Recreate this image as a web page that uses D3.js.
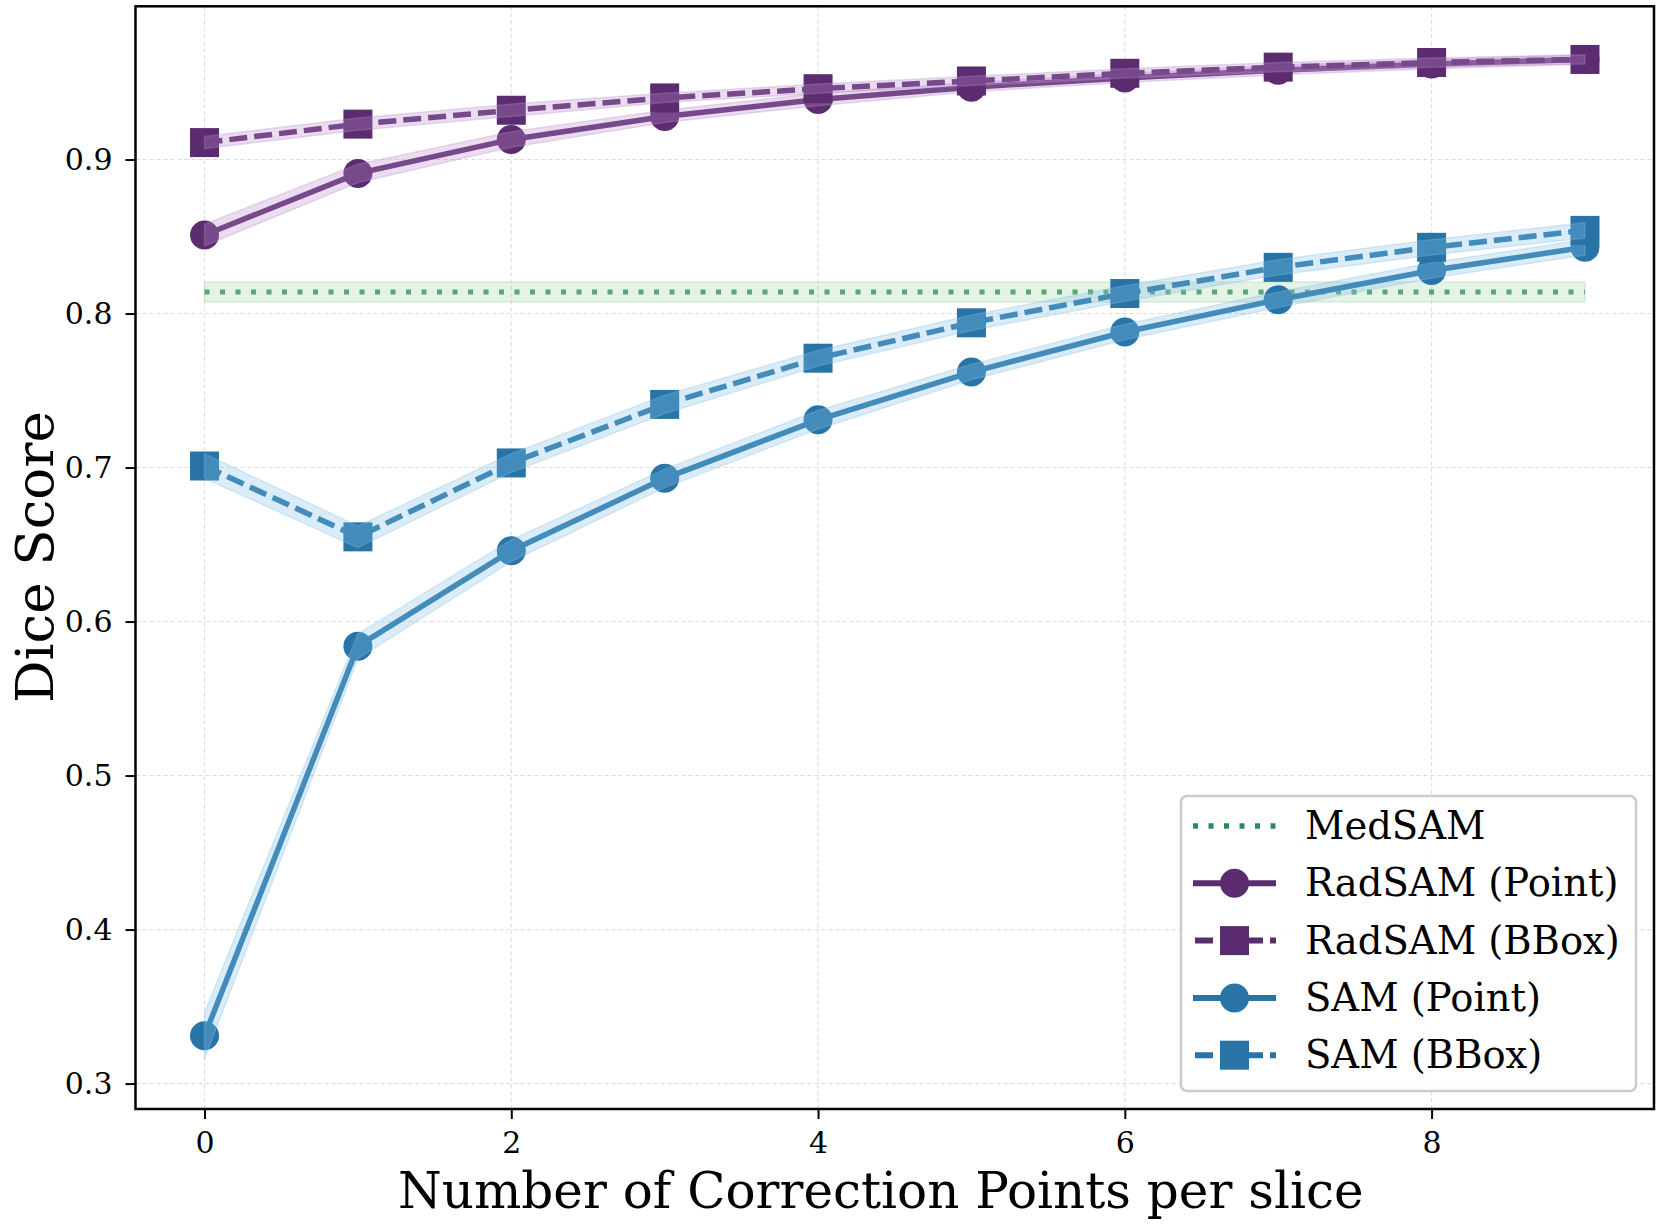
<!DOCTYPE html>
<html>
<head>
<meta charset="utf-8">
<script src="https://cdn.jsdelivr.net/npm/d3@7"></script>
<style>
  body { margin: 0; background: #fff; }
  text { font-family: "DejaVu Serif", serif; }
</style>
</head>
<body>
<svg id="chart" width="1659" height="1224"></svg>
<script>
// x positions: number of correction points
var steps = [0, 1, 2, 3, 4, 5, 6, 7, 8, 9];

var radPoint = [0.851, 0.891, 0.913, 0.928, 0.939, 0.947, 0.953, 0.958, 0.962, 0.965];
var radPointErr = [0.007, 0.006, 0.005, 0.004, 0.004, 0.003, 0.003, 0.003, 0.003, 0.003];
var radBox = [0.911, 0.923, 0.932, 0.940, 0.946, 0.951, 0.956, 0.960, 0.963, 0.965];
var radBoxErr = [0.004, 0.004, 0.004, 0.003, 0.003, 0.003, 0.003, 0.003, 0.003, 0.003];
var samPoint = [0.331, 0.584, 0.646, 0.693, 0.731, 0.762, 0.788, 0.809, 0.828, 0.843];
var samPointErr = [0.015, 0.008, 0.007, 0.006, 0.006, 0.005, 0.005, 0.005, 0.005, 0.005];
var samBox = [0.701, 0.655, 0.703, 0.741, 0.771, 0.794, 0.813, 0.830, 0.843, 0.854];
var samBoxErr = [0.008, 0.007, 0.006, 0.006, 0.005, 0.005, 0.005, 0.005, 0.005, 0.005];
var medsam = 0.814;
var medsamErr = 0.0065;

var xTicks = [0, 2, 4, 6, 8];
var yTicks = [0.3, 0.4, 0.5, 0.6, 0.7, 0.8, 0.9];

var legendNames = ["MedSAM", "RadSAM (Point)", "RadSAM (BBox)", "SAM (Point)", "SAM (BBox)"];

(function () {
	var purple = "#5b2c6f", purpleBand = "#bb8fce";
	var blue = "#2874a6", blueBand = "#85c1e9";
	var green = "#2e8b57", greenBand = "#82c88c";
	var dashed = "18,7", dotted = "5,10.5";

	var mLeft = 135.5, mRight = 1654, mTop = 6.3, mBottom = 1109;

	var svg = d3.select("#chart");
	var x = d3.scaleLinear().domain([-0.45, 9.45]).range([mLeft, mRight]);
	var y = d3.scaleLinear().domain([0.2835, 0.9995]).range([mBottom, mTop]);

	// grid
	var grid = svg.append("g");
	xTicks.forEach(function (t) {
		grid.append("line").attr("x1", x(t)).attr("x2", x(t)).attr("y1", mTop).attr("y2", mBottom)
			.attr("stroke", "#dcdcdc").attr("stroke-width", 1.1).attr("stroke-dasharray", "4,3");
	});
	yTicks.forEach(function (t) {
		grid.append("line").attr("x1", mLeft).attr("x2", mRight).attr("y1", y(t)).attr("y2", y(t))
			.attr("stroke", "#dcdcdc").attr("stroke-width", 1.1).attr("stroke-dasharray", "4,3");
	});

	var plot = svg.append("g");

	function band(lo, hi, color, opacity) {
		var area = d3.area().x(function (d, i) { return x(steps[i]); })
			.y0(function (d, i) { return y(lo[i]); })
			.y1(function (d, i) { return y(hi[i]); });
		plot.append("path").attr("d", area(lo)).attr("fill", color).attr("fill-opacity", opacity)
			.attr("stroke", color).attr("stroke-opacity", opacity).attr("stroke-width", 1.5);
	}

	function series(vals, err, color, bandColor, isDashed, square) {
		var line = d3.line().x(function (d, i) { return x(steps[i]); }).y(function (d) { return y(d); });
		plot.append("path").attr("d", line(vals)).attr("fill", "none").attr("stroke", color)
			.attr("stroke-width", 5.5).attr("stroke-dasharray", isDashed ? dashed : null);
		vals.forEach(function (v, i) {
			if (square) {
				plot.append("rect").attr("x", x(steps[i]) - 14.5).attr("y", y(v) - 14.5)
					.attr("width", 29).attr("height", 29).attr("fill", color);
			} else {
				plot.append("circle").attr("cx", x(steps[i])).attr("cy", y(v)).attr("r", 14.5).attr("fill", color);
			}
		});
		var lo = vals.map(function (v, i) { return v - err[i]; });
		var hi = vals.map(function (v, i) { return v + err[i]; });
		band(lo, hi, bandColor, 0.3);
	}

	// MedSAM reference line
	plot.append("line").attr("x1", x(0)).attr("x2", x(9)).attr("y1", y(medsam)).attr("y2", y(medsam))
		.attr("stroke", green).attr("stroke-width", 5).attr("stroke-dasharray", dotted).attr("stroke-opacity", 0.85);
	plot.append("rect").attr("x", x(0)).attr("y", y(medsam + medsamErr)).attr("width", x(9) - x(0))
		.attr("height", y(medsam - medsamErr) - y(medsam + medsamErr))
		.attr("fill", greenBand).attr("fill-opacity", 0.22).attr("stroke", greenBand).attr("stroke-opacity", 0.25).attr("stroke-width", 1.5);

	series(radPoint, radPointErr, purple, purpleBand, false, false);
	series(radBox, radBoxErr, purple, purpleBand, true, true);
	series(samPoint, samPointErr, blue, blueBand, false, false);
	series(samBox, samBoxErr, blue, blueBand, true, true);

	// axes
	var xAxis = svg.append("g").attr("transform", "translate(0," + mBottom + ")")
		.call(d3.axisBottom(x).tickValues(xTicks).tickSize(10).tickPadding(13).tickFormat(d3.format("d")));
	var yAxis = svg.append("g").attr("transform", "translate(" + mLeft + ",0)")
		.call(d3.axisLeft(y).tickValues(yTicks).tickSize(10).tickPadding(13).tickFormat(d3.format(".1f")));
	[xAxis, yAxis].forEach(function (a) {
		a.select(".domain").remove();
		a.selectAll(".tick line").attr("stroke", "#000").attr("stroke-width", 2);
		a.selectAll(".tick text").attr("font-family", "DejaVu Serif").attr("font-size", 30).attr("fill", "#000");
	});

	svg.append("rect").attr("x", mLeft).attr("y", mTop).attr("width", mRight - mLeft).attr("height", mBottom - mTop)
		.attr("fill", "none").attr("stroke", "#000").attr("stroke-width", 2.5);

	svg.append("text").attr("x", (mLeft + mRight) / 2 - 14).attr("y", 1208).attr("text-anchor", "middle")
		.attr("font-size", 50).text("Number of Correction Points per slice");
	svg.append("text").attr("transform", "translate(53," + 557 + ") rotate(-90)")
		.attr("text-anchor", "middle").attr("font-size", 53).text("Dice Score");

	// legend
	var lg = svg.append("g");
	lg.append("rect").attr("x", 1181).attr("y", 796).attr("width", 455).attr("height", 295).attr("rx", 6)
		.attr("fill", "#fff").attr("fill-opacity", 0.85).attr("stroke", "#cccccc").attr("stroke-width", 2.5);
	var legendStyles = [
		{ color: green, dash: dotted, marker: null },
		{ color: purple, dash: null, marker: "circle" },
		{ color: purple, dash: dashed, marker: "square" },
		{ color: blue, dash: null, marker: "circle" },
		{ color: blue, dash: dashed, marker: "square" }
	];
	legendNames.forEach(function (name, i) {
		var cy = 826 + i * 57.3;
		var st = legendStyles[i];
		lg.append("line").attr("x1", st.marker === "square" ? 1195 : 1193).attr("x2", 1276).attr("y1", cy).attr("y2", cy)
			.attr("stroke", st.color).attr("stroke-width", st.marker ? 6 : 5.5).attr("stroke-dasharray", st.dash);
		if (st.marker === "circle") {
			lg.append("circle").attr("cx", 1234.5).attr("cy", cy).attr("r", 14.5).attr("fill", st.color);
		} else if (st.marker === "square") {
			lg.append("rect").attr("x", 1220).attr("y", cy - 14.5).attr("width", 29).attr("height", 29).attr("fill", st.color);
		}
		lg.append("text").attr("x", 1305).attr("y", cy + 13).attr("font-size", 38.5).attr("fill", "#000").text(name);
	});
})();
</script>
</body>
</html>
